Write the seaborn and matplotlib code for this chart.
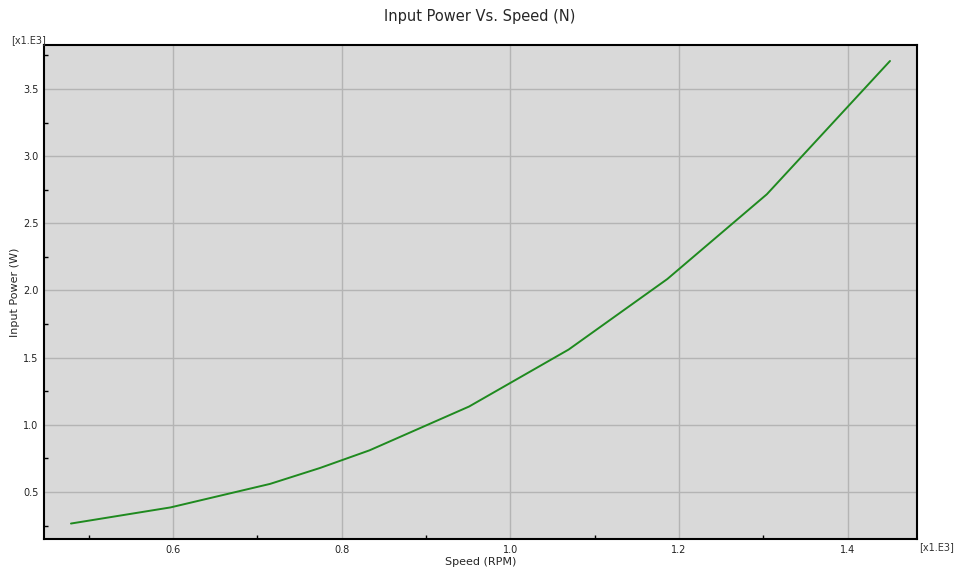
import numpy as np
import pandas as pd
import matplotlib
matplotlib.use('Agg')
import matplotlib.pyplot as plt
import seaborn as sns
from matplotlib.ticker import MultipleLocator

# Input power vs speed
speed_rpm = [479, 597, 715, 774, 833, 951, 1069, 1186, 1304, 1450]
input_power_w = [265, 385, 560, 678, 810, 1136, 1560, 2085, 2716, 3708]

df = pd.DataFrame({'speed': np.array(speed_rpm) / 1000.0,
                   'power': np.array(input_power_w) / 1000.0})

sns.set_style('whitegrid', {'axes.facecolor': '#d9d9d9', 'grid.color': '#b4b4b4',
                            'axes.edgecolor': 'black'})
plt.rcParams['font.family'] = ['DejaVu Sans']

fig = plt.figure(figsize=(9.6, 5.74), dpi=100)
ax = fig.add_axes([0.0458, 0.061, 0.9094, 0.8606])
sns.lineplot(data=df, x='speed', y='power', color='#1f8a1f', linewidth=1.4, ax=ax)

ax.set_xlim(0.447, 1.482)
ax.set_ylim(0.15, 3.827)
ax.xaxis.set_major_locator(MultipleLocator(0.2))
ax.xaxis.set_minor_locator(MultipleLocator(0.1))
ax.yaxis.set_major_locator(MultipleLocator(0.5))
ax.yaxis.set_minor_locator(MultipleLocator(0.25))
ax.grid(True, which='major', color='#b4b4b4', linewidth=1)
ax.tick_params(which='major', length=0, labelsize=7, pad=4, colors='#222222')
ax.tick_params(which='minor', bottom=True, left=True, length=3, width=1,
               direction='in', color='black')
for s in ax.spines.values():
    s.set_linewidth(1.5)
    s.set_color('black')

ax.set_xlabel('Speed (RPM)', fontsize=8, labelpad=2)
ax.set_ylabel('Input Power (W)', fontsize=8, labelpad=2)
fig.suptitle('Input Power Vs. Speed (N)', fontsize=10.5, y=0.985)
fig.text(0.012, 0.925, '[x1.E3]', fontsize=7, color='#333333')
fig.text(0.957, 0.041, '[x1.E3]', fontsize=7, color='#333333')

plt.savefig('out.png', dpi=100)
